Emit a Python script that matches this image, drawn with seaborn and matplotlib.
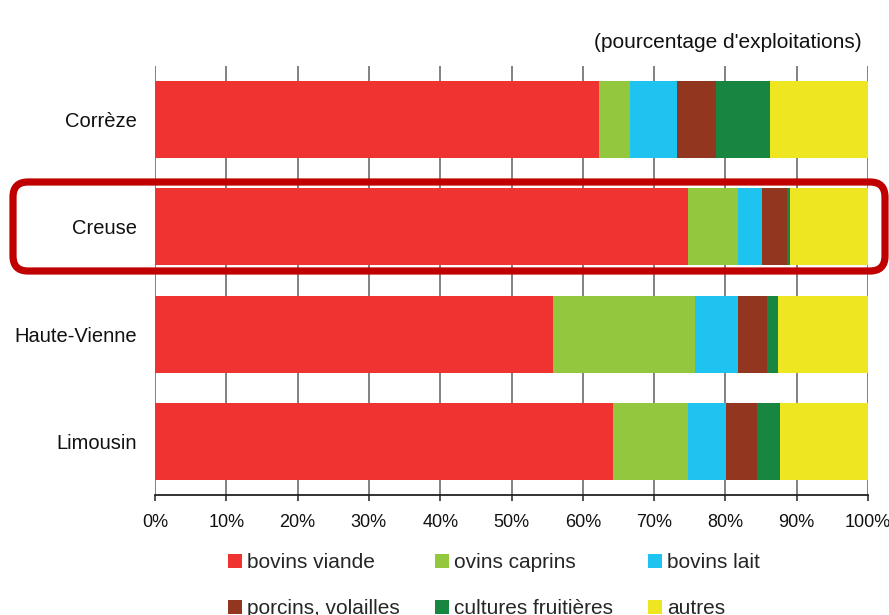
import matplotlib
matplotlib.use("Agg")
import matplotlib.pyplot as plt
import seaborn as sns
import numpy as np
import pandas as pd
from matplotlib.patches import FancyBboxPatch, Patch

# ── Data (percent of farms) ──
regions = ["Corrèze", "Creuse", "Haute-Vienne", "Limousin"]
bovins_viande = [62.3, 74.7, 55.8, 64.3]
ovins_caprins = [4.3, 7.1, 20.0, 10.5]
bovins_lait = [6.6, 3.4, 6.0, 5.3]
porcins_volailles = [5.5, 3.5, 4.0, 4.4]
cultures_fruitieres = [7.5, 0.3, 1.6, 3.1]
autres = [13.8, 11.0, 12.6, 12.4]

series_names = ["bovins viande", "ovins caprins", "bovins lait",
                "porcins, volailles", "cultures fruitières", "autres"]
series_colors = ["#EE3330", "#93C83E", "#1EC3F0", "#933620", "#168640", "#EEE621"]
x_ticks = [0, 10, 20, 30, 40, 50, 60, 70, 80, 90, 100]

sns.set_style("white")
plt.rcParams["font.family"] = ["Liberation Sans", "DejaVu Sans"]

df = pd.DataFrame({
    "region": regions,
    series_names[0]: bovins_viande,
    series_names[1]: ovins_caprins,
    series_names[2]: bovins_lait,
    series_names[3]: porcins_volailles,
    series_names[4]: cultures_fruitieres,
    series_names[5]: autres,
})
cum = df[series_names].cumsum(axis=1)

fig = plt.figure(figsize=(8.89, 6.15), dpi=100)
ax = fig.add_axes([155 / 889, 1 - 495 / 615, (868 - 155) / 889, (495 - 66) / 615])

# stacked bars: draw cumulative totals from the outermost layer inwards
for name, color in reversed(list(zip(series_names, series_colors))):
    sns.barplot(x=cum[name], y=df["region"], orient="h", color=color,
                width=0.72, linewidth=0, saturation=1, ax=ax)

ax.set_xlim(0, 100)
ax.set_ylim(3.5, -0.5)
ax.set_xticks(x_ticks)
ax.set_xticklabels([f"{t}%" for t in x_ticks], fontsize=13, color="#111111")
ax.set_xlabel("")
ax.set_ylabel("")
ax.tick_params(axis="y", length=0, pad=13, labelsize=14.5, labelcolor="#111111")
ax.tick_params(axis="x", length=4, width=1.2, color="#333333", pad=10, bottom=True)

ax.set_axisbelow(True)
ax.xaxis.grid(True, color="#777777", linewidth=1.3)
for side in ["top", "right", "left"]:
    ax.spines[side].set_visible(False)
ax.spines["bottom"].set_color("#222222")
ax.spines["bottom"].set_linewidth(1.3)

fig.text(862 / 889, 1 - 42 / 615, "(pourcentage d'exploitations)",
         ha="right", va="center", fontsize=15, color="#111111")

# red frame highlighting the Creuse row
frame = FancyBboxPatch((0.13, (615 - 271) / 100), 8.72, 0.89,
                       boxstyle="round,pad=0,rounding_size=0.15",
                       transform=fig.dpi_scale_trans, fill=False,
                       edgecolor="#C00000", linewidth=5.2, zorder=10)
fig.add_artist(frame)

# legend, row-major order over 3 columns
order = [0, 3, 1, 4, 2, 5]
handles = [Patch(facecolor=series_colors[i], edgecolor="none") for i in order]
labels = [series_names[i] for i in order]
fig.legend(handles, labels, ncol=3, loc="upper left",
           bbox_to_anchor=(228 / 889, 1 - 553 / 615), frameon=False,
           fontsize=15, handlelength=0.67, handleheight=0.67,
           handletextpad=0.25, columnspacing=1.68, labelspacing=1.3,
           borderpad=0, borderaxespad=0)

fig.savefig("out.png", dpi=100)
